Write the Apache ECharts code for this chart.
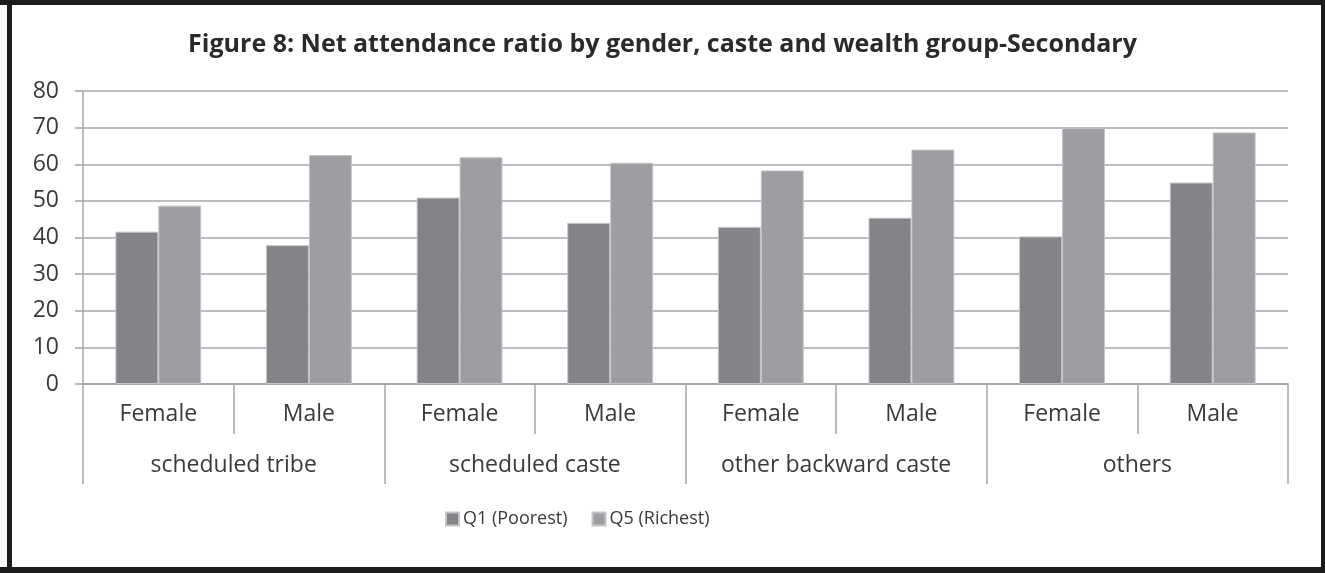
<!DOCTYPE html>
<html>
<head>
<meta charset="utf-8">
<script src="https://cdn.jsdelivr.net/npm/echarts@6/dist/echarts.min.js"></script>
<style>
  html, body { margin: 0; padding: 0; background: #fff; }
  #chart { width: 1325px; height: 573px; }
</style>
</head>
<body>
<div id="chart"></div>
<script>
// data
const genders = ['Female', 'Male', 'Female', 'Male', 'Female', 'Male', 'Female', 'Male']
const castes = ['scheduled tribe', 'scheduled caste', 'other backward caste', 'others']
const q1Poorest = [41.6, 37.9, 50.9, 44.0, 42.9, 45.4, 40.3, 55.0]
const q5Richest = [48.7, 62.5, 61.9, 60.4, 58.3, 64.0, 69.9, 68.7]

const font = 'Open Sans'
const textColor = '#3a3a3a'
const lineColor = '#a7a7a9'

const ec = echarts.init(document.getElementById('chart'))

ec.setOption({
    animation: false,
    textStyle: { fontFamily: font },
    title: {
        text: 'Figure 8: Net attendance ratio by gender, caste and wealth group-Secondary',
        left: 'center',
        top: 27,
        textStyle: { fontFamily: font, fontWeight: 'bold', fontSize: 25, color: '#2a2a2a' }
    },
    legend: {
        top: 510,
        left: 445,
        padding: 0,
        icon: 'rect',
        itemWidth: 13,
        itemHeight: 13,
        itemGap: 24,
        textStyle: { fontFamily: font, fontSize: 18, color: textColor, padding: [0, 0, 0, -1] }
    },
    grid: { left: 83, right: 37, top: 91, bottom: 189 },
    xAxis: [
        {
            type: 'category',
            data: genders,
            axisLine: { show: true, lineStyle: { color: lineColor, width: 1.5 } },
            axisTick: { show: true, interval: 0, length: 50, lineStyle: { color: lineColor, width: 1.5 } },
            axisLabel: { interval: 0, margin: 19, fontSize: 23, color: textColor }
        },
        {
            type: 'category',
            data: castes,
            position: 'bottom',
            axisLine: { show: true, lineStyle: { color: lineColor, width: 1.5 } },
            axisTick: { show: true, interval: 0, length: 100, lineStyle: { color: lineColor, width: 1.5 } },
            axisLabel: { interval: 0, margin: 70, fontSize: 23, color: textColor }
        }
    ],
    yAxis: {
        type: 'value',
        min: 0,
        max: 80,
        interval: 10,
        axisLine: { show: true, lineStyle: { color: lineColor, width: 1.5 } },
        axisTick: { show: true, length: 8, lineStyle: { color: lineColor, width: 1.5 } },
        axisLabel: { margin: 24, fontSize: 23, color: textColor },
        splitLine: { lineStyle: { color: lineColor, width: 1.5 } }
    },
    series: [
        {
            name: 'Q1 (Poorest)',
            type: 'bar',
            data: q1Poorest,
            barGap: '0%',
            barCategoryGap: '43%',
            itemStyle: { color: '#838487', borderColor: '#c4c4c6', borderWidth: 1 }
        },
        {
            name: 'Q5 (Richest)',
            type: 'bar',
            data: q5Richest,
            itemStyle: { color: '#9d9ea2', borderColor: '#c4c4c6', borderWidth: 1 }
        }
    ],
    graphic: [
        // dark frame around the figure
        { type: 'rect', shape: { x: 0, y: 0, width: 1325, height: 5 }, style: { fill: '#1c1c1c' } },
        { type: 'rect', shape: { x: 7, y: 0, width: 5, height: 573 }, style: { fill: '#1c1c1c' } },
        { type: 'rect', shape: { x: 0, y: 567, width: 1325, height: 6 }, style: { fill: '#1c1c1c' } },
        { type: 'rect', shape: { x: 1321, y: 0, width: 4, height: 573 }, style: { fill: '#1c1c1c' } }
    ]
})
</script>
</body>
</html>
